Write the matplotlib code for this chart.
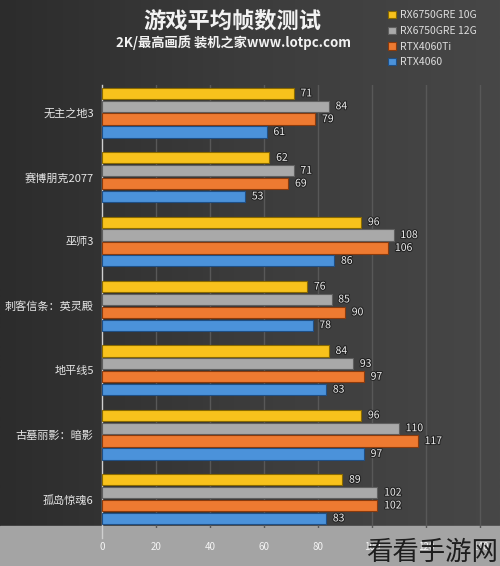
import numpy as np
import matplotlib
matplotlib.use('Agg')
import matplotlib.pyplot as plt
import matplotlib.patheffects as pe
from matplotlib.patches import Rectangle

plt.rcParams['font.family'] = ['Noto Sans CJK SC', 'DejaVu Sans']

games = ['无主之地3', '赛博朋克2077', '巫师3', '刺客信条：英灵殿',
         '地平线5', '古墓丽影：暗影', '孤岛惊魂6']
series = ['RX6750GRE 10G', 'RX6750GRE 12G', 'RTX4060Ti', 'RTX4060']
rx10 = [71, 62, 96, 76, 84, 96, 89]
rx12 = [84, 71, 108, 85, 93, 110, 102]
ti = [79, 69, 106, 90, 97, 117, 102]
r4060 = [61, 53, 86, 78, 83, 97, 83]
xticks = [0, 20, 40, 60, 80, 100, 120, 140]

colors = ['#f8c21c', '#a9a9a9', '#ee7a31', '#4b92da']
edges = ['#8a6a00', '#5f5f5f', '#8a3a0c', '#1f4f85']

W, H = 500, 566
fig = plt.figure(figsize=(W / 100, H / 100), dpi=100)

# background
bg = fig.add_axes([0, 0, 1, 1])
grad = np.linspace(0, 1, 256)[None, :]
from matplotlib.colors import LinearSegmentedColormap
bgcm = LinearSegmentedColormap.from_list('bg', ['#2c2c2c', '#3c3c3c', '#474747'])
bg.imshow(grad, aspect='auto', cmap=bgcm, extent=[0, 1, 0, 1])
bg.add_patch(Rectangle((0, 0), 1, 40 / H, color='#a4a4a4', zorder=3))
bg.set_xlim(0, 1)
bg.set_ylim(0, 1)
bg.axis('off')

ax = fig.add_axes([102 / W, 38 / H, 1 - 102 / W, (528 - 85) / H])
ax.set_facecolor('none')
y = np.arange(len(games))
offs = [-0.3, -0.1, 0.1, 0.3]
vals = [rx10, rx12, ti, r4060]
for k in range(4):
    ax.barh(y + offs[k], vals[k], height=0.175, color=colors[k],
            edgecolor=edges[k], linewidth=0.8, zorder=3, label=series[k])
    for yi, v in zip(y + offs[k], vals[k]):
        ax.text(v + 2.5, yi, str(v), va='center', ha='left', fontsize=7.5,
                color='#eeeeee', zorder=4,
                path_effects=[pe.withStroke(linewidth=1.5, foreground='#222222')])

ax.set_xlim(0, 147.4)
ax.set_ylim(6.45, -0.43)
ax.set_yticks(y)
ax.set_yticklabels(games, fontsize=8, color='#e6e6e6')
ax.set_xticks(xticks)
ax.set_xticklabels([str(t) for t in xticks], fontsize=7, color='#f4f4f4')
ax.tick_params(axis='both', length=0)
ax.tick_params(axis='x', pad=10)
ax.tick_params(axis='y', pad=6)
for t in xticks[1:]:
    ax.axvline(t, color='#585858', linewidth=1, zorder=1)
for s in ['top', 'right', 'bottom']:
    ax.spines[s].set_visible(False)
ax.spines['left'].set_color('#cfcfcf')
ax.spines['left'].set_linewidth(1)
ax.spines['left'].set_bounds(6.6, -0.43)

fig.text(232 / W, 1 - 21 / H, '游戏平均帧数测试', ha='center', va='center',
         fontsize=16, fontweight='bold', color='#f2f2f2')
fig.text(233 / W, 1 - 43 / H, '2K/最高画质 装机之家www.lotpc.com', ha='center',
         va='center', fontsize=9.5, fontweight='bold', color='#f2f2f2')

leg = fig.legend(loc='upper left', bbox_to_anchor=(383 / W, 1 - 5 / H),
                 frameon=False, fontsize=7.5, handlelength=0.7,
                 handleheight=0.7, handletextpad=0.4, labelspacing=0.55,
                 labelcolor='#dddddd', borderpad=0)

fig.text(498 / W, 14 / H, '看看手游网', ha='right', va='center',
         fontsize=19, color='#1e1e1e')

fig.savefig('out.png', dpi=100)
